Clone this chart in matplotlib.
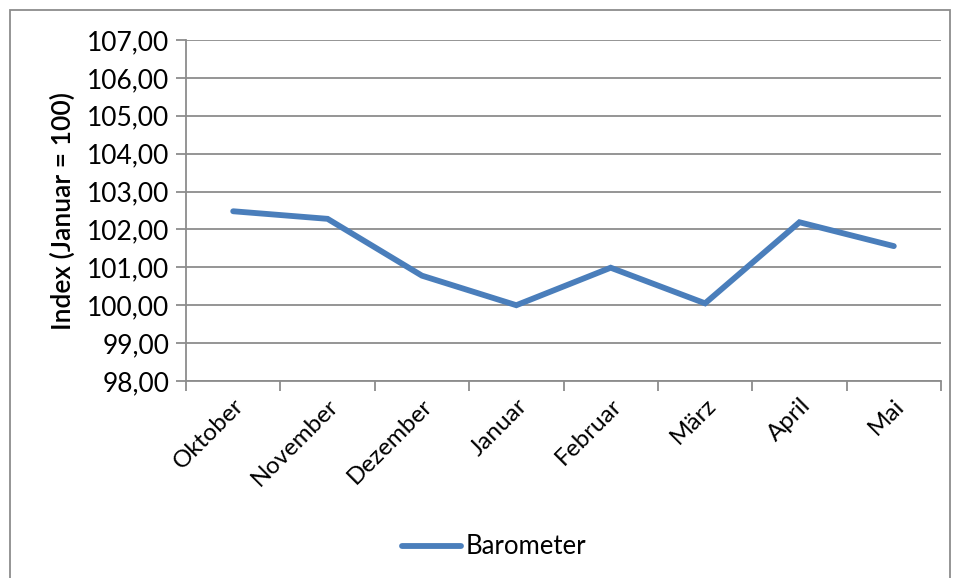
import matplotlib.pyplot as plt
from matplotlib.lines import Line2D
from matplotlib.patches import Rectangle
from matplotlib.ticker import FuncFormatter, MultipleLocator

months = ["Oktober", "November", "Dezember", "Januar", "Februar", "März", "April", "Mai"]
barometer = [102.48, 102.28, 100.78, 100.00, 100.99, 100.05, 102.19, 101.56]

plt.rcParams["font.family"] = ["Lato", "DejaVu Sans"]

fig = plt.figure(figsize=(9.57, 5.78), dpi=100)
ax = fig.add_axes([186 / 957, 1 - 381 / 578, 755 / 957, 341 / 578])

x = list(range(len(months)))
ax.plot(x, barometer, color="#4a7ebb", lw=4.2, solid_capstyle="round", solid_joinstyle="miter", zorder=3)

ax.set_xlim(-0.5, len(months) - 0.5)
ax.set_ylim(98, 107)
ax.yaxis.set_major_locator(MultipleLocator(1))
ax.yaxis.set_major_formatter(FuncFormatter(lambda v, p: f"{v:.2f}".replace(".", ",")))
ax.grid(axis="y", color="#8c8c8c", lw=1.3)
ax.set_axisbelow(True)

# ticks between categories, labels at centres
ax.set_xticks([i - 0.5 for i in range(len(months) + 1)])
ax.set_xticklabels([])
ax.set_xticks(x, minor=True)
ax.set_xticklabels(months, minor=True, rotation=45, ha="right", rotation_mode="anchor", fontsize=17.5)
ax.tick_params(axis="x", which="minor", length=0, pad=10)
ax.tick_params(axis="x", which="major", length=7, color="#8c8c8c", width=1.3)
ax.tick_params(axis="y", length=7, color="#8c8c8c", width=1.3, labelsize=19, pad=5)

for side in ["top", "right"]:
    ax.spines[side].set_visible(False)
for side in ["left", "bottom"]:
    ax.spines[side].set_color("#8c8c8c")
    ax.spines[side].set_linewidth(1.3)

ax.set_ylabel("Index (Januar = 100)", fontsize=19, labelpad=8, fontweight="semibold")

handle = Line2D([], [], color="#4a7ebb", lw=4.2, solid_capstyle="round")
fig.legend([handle], ["Barometer"], loc="center", bbox_to_anchor=(494 / 957, 1 - 547 / 578),
           frameon=False, fontsize=18.5, handlelength=2.3, handletextpad=0.2)

fig.patches.append(Rectangle((10 / 957, -0.1), 940 / 957, 1 - 10 / 578 + 0.1,
                             transform=fig.transFigure, fill=False, edgecolor="#8c8c8c", lw=1.3))

fig.savefig("out.png", dpi=100)
